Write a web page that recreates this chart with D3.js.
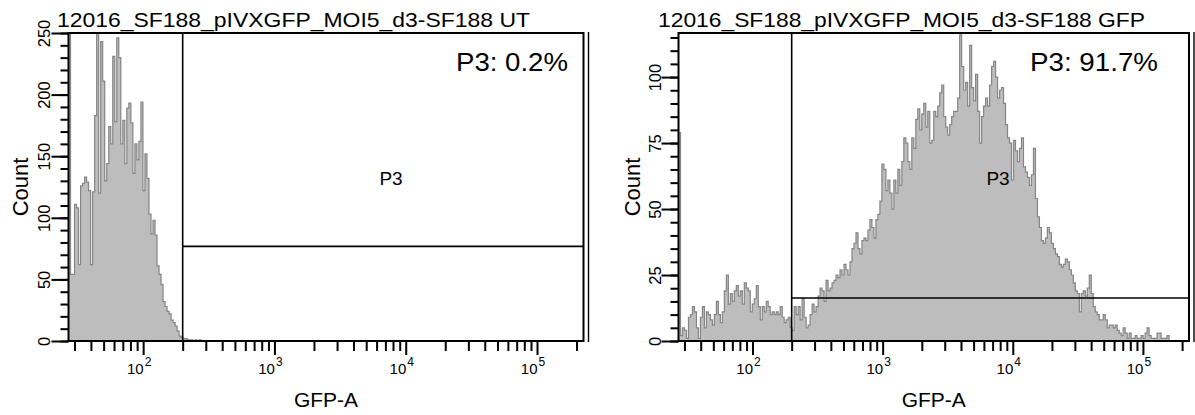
<!DOCTYPE html>
<html>
<head>
<meta charset="utf-8">
<script src="https://cdn.jsdelivr.net/npm/d3@7"></script>
<style>
  body { margin: 0; background: #fff; }
  svg { display: block; }
  text { font-family: "Liberation Sans", Arial, sans-serif; fill: #000; }
</style>
</head>
<body>
<svg id="chart" width="1195" height="415"></svg>
<script>
// ---- data -------------------------------------------------------------
const sampleTitles = [
  "12016_SF188_pIVXGFP_MOI5_d3-SF188 UT",
  "12016_SF188_pIVXGFP_MOI5_d3-SF188 GFP"
];
const gateName = "P3";
const gatePercents = ["P3: 0.2%", "P3: 91.7%"];
const gateLowerBound = 200;          // GFP-A value where gate P3 starts
const gateBarLevel = [76.8, 16.3];   // count level at which the gate bar is drawn
const xLabel = "GFP-A";
const yLabel = "Count";
const xDomain = [27, 226000];        // displayed GFP-A range (log)
const xDecades = [100, 1000, 10000, 100000];
const xDecadeExp = ["2", "3", "4", "5"];
const yMax = [250, 116.7];
const yMajor = [[0, 50, 100, 150, 200, 250], [0, 25, 50, 75, 100]];
const yMinorStep = [10, 5];
const binCount = 256;                // channels across the displayed range

// counts per channel, starting at the lowest displayed channel
const countsUT = [
  250, 54, 54, 111, 108, 62, 126, 128, 133, 129, 122, 62, 121, 183, 250, 120,
  243, 211, 130, 144, 174, 160, 231, 178, 246, 230, 160, 179, 144, 189, 193, 177,
  136, 160, 147, 162, 194, 122, 152, 132, 103, 87, 98, 86, 61, 54, 46, 32,
  28, 24, 22, 17, 15, 12, 8, 4, 3, 2, 2, 1, 1, 1, 0, 1,
  0, 1
];
const countsGFP = [
  79, 2, 5, 4, 1, 9, 10, 13, 11, 5, 1, 9, 13, 5, 11, 10,
  8, 6, 10, 15, 10, 7, 11, 19, 25, 14, 18, 15, 19, 21, 17, 19,
  14, 22, 20, 19, 11, 14, 16, 21, 13, 8, 13, 11, 15, 13, 10, 11,
  10, 11, 10, 13, 9, 7, 8, 9, 5, 4, 13, 10, 13, 8, 16, 9,
  5, 6, 10, 14, 11, 13, 17, 20, 19, 15, 23, 19, 20, 22, 23, 25,
  24, 27, 25, 29, 27, 25, 30, 35, 37, 41, 35, 33, 38, 39, 38, 42,
  46, 43, 39, 46, 48, 53, 67, 65, 57, 61, 56, 50, 61, 56, 65, 59,
  68, 77, 75, 68, 65, 77, 73, 84, 88, 80, 86, 90, 81, 87, 75, 76,
  87, 85, 89, 94, 97, 85, 81, 78, 82, 85, 87, 87, 92, 116, 104, 95,
  98, 89, 112, 96, 91, 101, 87, 75, 85, 89, 92, 89, 97, 104, 106, 100,
  92, 95, 96, 90, 82, 77, 75, 61, 76, 72, 68, 73, 77, 66, 64, 62,
  59, 63, 73, 54, 47, 43, 38, 37, 39, 43, 41, 37, 35, 33, 32, 29,
  28, 29, 31, 30, 27, 25, 22, 19, 18, 11, 18, 19, 17, 20, 25, 18,
  13, 11, 10, 8, 8, 10, 8, 5, 6, 6, 5, 6, 4, 3, 2, 5,
  3, 1, 3, 1, 1, 2, 1, 1, 2, 1, 3, 5, 2, 1, 1, 1,
  3, 3, 1, 1, 1, 2, 0
];
const panelCounts = [countsUT, countsGFP];

// ---- layout -----------------------------------------------------------
const panels = [
  { left: 68.5, right: 583.5, titleX: 57, titleW: 473, pctX: 456, pctW: 112, midLabelX: 391, yLabelX: 50, countX: 28 },
  { left: 678.5, right: 1189, titleX: 658, titleW: 487, pctX: 1030, pctW: 128, midLabelX: 998, yLabelX: 661, countX: 640 }
];
const plotTop = 33, plotBottom = 341;
const fillGray = "#bdbdbd", lineGray = "#858585";
const tickWidth = 2;

const svg = d3.select("#chart");

// replace each axis tick line by a solid filled bar of the same length
function solidTicks(sel, orient, len) {
  sel.select(".domain").remove();
  sel.selectAll(".tick line").remove();
  sel.selectAll(".tick").insert("rect", ":first-child")
    .attr("fill", "#000")
    .attr("x", orient === "left" ? -len : -tickWidth / 2)
    .attr("y", orient === "left" ? -tickWidth / 2 : 0)
    .attr("width", orient === "left" ? len : tickWidth)
    .attr("height", orient === "left" ? tickWidth : len);
}

panels.forEach((p, k) => {
  const g = svg.append("g");
  const x = d3.scaleLog().domain(xDomain).range([p.left, p.right]);
  const y = d3.scaleLinear().domain([0, yMax[k]]).range([plotBottom, plotTop]);

  // channel edges, equally spaced in log space across the axis
  const logStep = (Math.log10(xDomain[1]) - Math.log10(xDomain[0])) / binCount;
  const counts = panelCounts[k];
  const steps = counts.map((c, i) => ({ lo: xDomain[0] * Math.pow(10, i * logStep), c }));
  steps.push({ lo: xDomain[0] * Math.pow(10, counts.length * logStep), c: 0 });

  const clipId = "clip" + k;
  svg.append("clipPath").attr("id", clipId)
    .append("rect").attr("x", p.left).attr("y", plotTop).attr("width", p.right - p.left).attr("height", plotBottom - plotTop);

  // histogram: filled steps with a darker outline
  const hist = g.append("g").attr("clip-path", `url(#${clipId})`);
  hist.append("path").datum(steps).attr("fill", fillGray)
    .attr("d", d3.area().curve(d3.curveStepAfter).x(d => x(d.lo)).y0(y(0)).y1(d => y(d.c)));
  hist.append("path").datum(steps).attr("fill", "none").attr("stroke", lineGray).attr("stroke-width", 1.2)
    .attr("d", d3.line().curve(d3.curveStepAfter).x(d => x(d.lo)).y(d => y(d.c)));

  // gate P3
  const gx = x(gateLowerBound);
  g.append("line").attr("x1", gx).attr("x2", gx).attr("y1", plotTop).attr("y2", plotBottom)
    .attr("stroke", "#000").attr("stroke-width", 1.6);
  g.append("line").attr("x1", gx).attr("x2", p.right).attr("y1", y(gateBarLevel[k])).attr("y2", y(gateBarLevel[k]))
    .attr("stroke", "#000").attr("stroke-width", 1.6);

  // frame (with the doubled right edge)
  g.append("rect").attr("x", p.left).attr("y", plotTop).attr("width", p.right - p.left).attr("height", plotBottom - plotTop)
    .attr("fill", "none").attr("stroke", "#000").attr("stroke-width", 2);
  g.append("line").attr("x1", p.right + 5).attr("x2", p.right + 5).attr("y1", plotTop - 1).attr("y2", plotBottom + 1)
    .attr("stroke", "#000").attr("stroke-width", 1.4);

  // y axis: minor and major ticks, rotated labels
  const minor = d3.range(0, yMax[k] + 0.001, yMinorStep[k]);
  g.append("g").attr("transform", `translate(${p.left},0)`)
    .call(d3.axisLeft(y).tickValues(minor).tickSize(8).tickFormat(""))
    .call(solidTicks, "left", 8);
  const yMajorAxis = g.append("g").attr("transform", `translate(${p.left},0)`)
    .call(d3.axisLeft(y).tickValues(yMajor[k]).tickSize(17).tickFormat(d3.format("d")))
    .call(solidTicks, "left", 17);
  yMajorAxis.selectAll(".tick text")
    .attr("x", null).attr("dy", null)
    .attr("text-anchor", "middle")
    .attr("font-size", 16.5)
    .attr("transform", `translate(${p.yLabelX - p.left},0) rotate(-90)`);

  // x axis: log decades with 2..9 sub-ticks
  const subTicks = [];
  for (let e = 1; e <= 5; e++) {
    for (let m = 2; m <= 9; m++) {
      const v = m * Math.pow(10, e);
      if (v >= xDomain[0] && v <= xDomain[1]) subTicks.push(v);
    }
  }
  g.append("g").attr("transform", `translate(0,${plotBottom})`)
    .call(d3.axisBottom(x).tickValues(subTicks).tickSize(10).tickFormat(""))
    .call(solidTicks, "bottom", 10);
  const xMajorAxis = g.append("g").attr("transform", `translate(0,${plotBottom})`)
    .call(d3.axisBottom(x).tickValues(xDecades).tickSize(14).tickFormat(""))
    .call(solidTicks, "bottom", 14);
  xMajorAxis.selectAll(".tick text").remove();
  const lab = xMajorAxis.selectAll(".tick");
  lab.append("text").attr("x", 0).attr("y", 33).attr("text-anchor", "end").attr("font-size", 15).text("10");
  lab.append("text").attr("x", 1).attr("y", 25).attr("text-anchor", "start").attr("font-size", 12).text((d, i) => xDecadeExp[i]);

  // axis titles
  g.append("text").attr("x", (p.left + p.right) / 2).attr("y", 407).attr("text-anchor", "middle")
    .attr("font-size", 21).text(xLabel);
  g.append("text").attr("transform", `translate(${p.countX},187) rotate(-90)`).attr("text-anchor", "middle")
    .attr("font-size", 22).text(yLabel);

  // titles and gate annotations
  g.append("text").attr("x", p.titleX).attr("y", 27).attr("font-size", 21)
    .attr("textLength", p.titleW).attr("lengthAdjust", "spacingAndGlyphs").text(sampleTitles[k]);
  g.append("text").attr("x", p.pctX).attr("y", 71).attr("font-size", 26)
    .attr("textLength", p.pctW).attr("lengthAdjust", "spacingAndGlyphs").text(gatePercents[k]);
  g.append("text").attr("x", p.midLabelX).attr("y", 185).attr("text-anchor", "middle")
    .attr("font-size", 19).text(gateName);
});
</script>
</body>
</html>
